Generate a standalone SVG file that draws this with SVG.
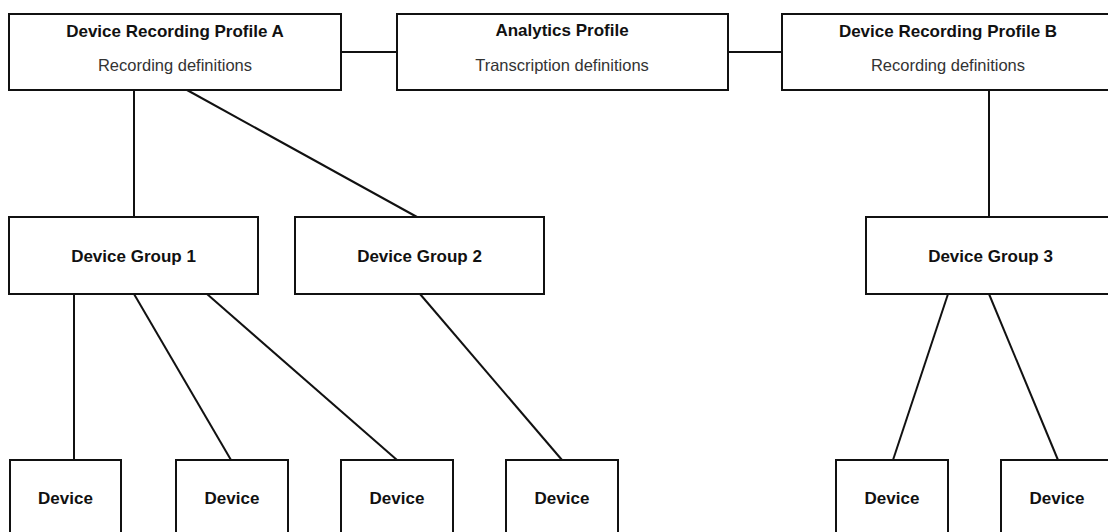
<svg xmlns="http://www.w3.org/2000/svg" width="1108" height="532" viewBox="0 0 1108 532">
<style>
.box{fill:#fff;stroke:#111;stroke-width:2}
.ln{stroke:#111;stroke-width:2;fill:none}
.t{font-family:"Liberation Sans",Arial,sans-serif;font-weight:bold;font-size:17px;fill:#111;text-anchor:middle}
.s{font-family:"Liberation Sans",Arial,sans-serif;font-size:16.5px;fill:#333;text-anchor:middle}
</style>
<rect width="1108" height="532" fill="#fff"/>
<g id="connectors">
<line class="ln" x1="341" y1="52" x2="397" y2="52"/>
<line class="ln" x1="728" y1="52" x2="782" y2="52"/>
<line class="ln" x1="134" y1="90" x2="134" y2="217"/>
<line class="ln" x1="187" y1="90" x2="417" y2="217"/>
<line class="ln" x1="989" y1="90" x2="989" y2="217"/>
<line class="ln" x1="74" y1="294" x2="74" y2="460"/>
<line class="ln" x1="134" y1="294" x2="231" y2="460"/>
<line class="ln" x1="207" y1="294" x2="397" y2="460"/>
<line class="ln" x1="420" y1="294" x2="562" y2="460"/>
<line class="ln" x1="948" y1="294" x2="893" y2="460"/>
<line class="ln" x1="989" y1="294" x2="1058" y2="460"/>
</g>
<g id="profileA">
<rect class="box" x="9" y="14" width="332" height="76"/>
<text class="t" x="175" y="37">Device Recording Profile A</text>
<text class="s" x="175" y="71">Recording definitions</text>
</g>
<g id="analytics">
<rect class="box" x="397" y="14" width="331" height="76"/>
<text class="t" x="562" y="36">Analytics Profile</text>
<text class="s" x="562" y="71">Transcription definitions</text>
</g>
<g id="profileB">
<rect class="box" x="782" y="14" width="332" height="76"/>
<text class="t" x="948" y="37">Device Recording Profile B</text>
<text class="s" x="948" y="71">Recording definitions</text>
</g>
<g id="group1">
<rect class="box" x="9" y="217" width="249" height="77"/>
<text class="t" x="133.500" y="262">Device Group 1</text>
</g>
<g id="group2">
<rect class="box" x="295" y="217" width="249" height="77"/>
<text class="t" x="419.500" y="262">Device Group 2</text>
</g>
<g id="group3">
<rect class="box" x="866" y="217" width="249" height="77"/>
<text class="t" x="990.500" y="262">Device Group 3</text>
</g>
<g id="device1"><rect class="box" x="10" y="460" width="111" height="90"/><text class="t" x="65.500" y="504">Device</text></g>
<g id="device2"><rect class="box" x="176" y="460" width="112" height="90"/><text class="t" x="232" y="504">Device</text></g>
<g id="device3"><rect class="box" x="341" y="460" width="112" height="90"/><text class="t" x="397" y="504">Device</text></g>
<g id="device4"><rect class="box" x="506" y="460" width="112" height="90"/><text class="t" x="562" y="504">Device</text></g>
<g id="device5"><rect class="box" x="836" y="460" width="112" height="90"/><text class="t" x="892" y="504">Device</text></g>
<g id="device6"><rect class="box" x="1001" y="460" width="112" height="90"/><text class="t" x="1057" y="504">Device</text></g>
</svg>
